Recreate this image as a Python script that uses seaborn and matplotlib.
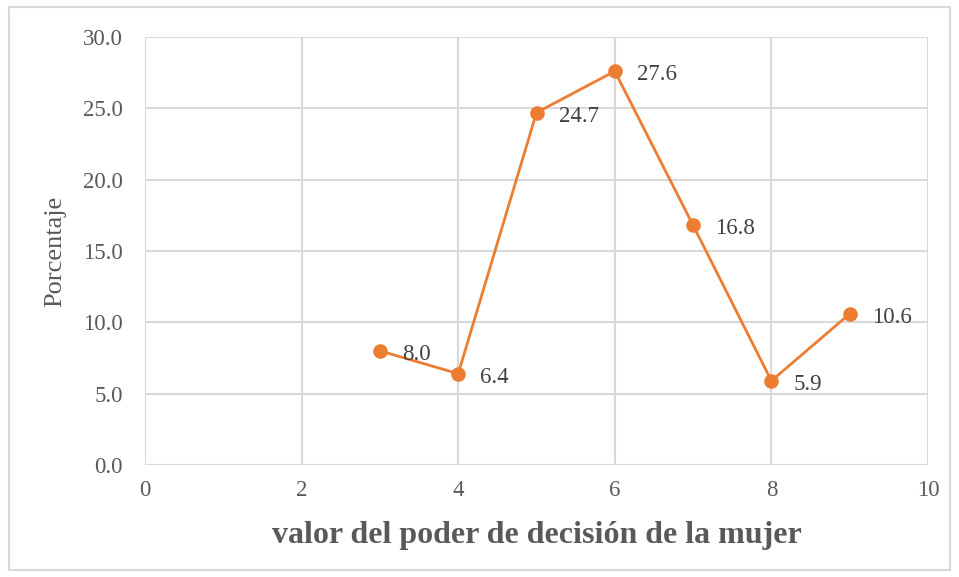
import matplotlib
matplotlib.use("Agg")
import matplotlib.pyplot as plt
import seaborn as sns
import pandas as pd
from matplotlib.patches import Rectangle

x_values = [3, 4, 5, 6, 7, 8, 9]
percentages = [8.0, 6.4, 24.7, 27.6, 16.8, 5.9, 10.6]
x_ticks = [0, 2, 4, 6, 8, 10]
y_ticks = [0, 5, 10, 15, 20, 25, 30]

sns.set_theme(style="white")
plt.rcParams['font.family'] = ['Liberation Serif', 'DejaVu Serif']

df = pd.DataFrame({"x": x_values, "y": percentages})

fig = plt.figure(figsize=(9.59, 5.77), dpi=100)
ax = fig.add_axes([145/959, 1-465/577, (928-145)/959, (465-37)/577])

text_color = "#595959"
grid_color = "#d9d9d9"
orange = "#ED7D31"

sns.lineplot(data=df, x="x", y="y", ax=ax, color=orange, linewidth=2.0,
             marker="o", markersize=10.5, markeredgewidth=0, zorder=3, clip_on=False)

ax.set_xlim(0, 10)
ax.set_ylim(0, 30)
ax.set_xticks(x_ticks)
ax.set_yticks(y_ticks)
ax.set_xticklabels([str(t) for t in x_ticks])
ax.set_yticklabels([f"{t:.1f}" for t in y_ticks])
ax.grid(True, color=grid_color, linewidth=1.5)
ax.set_axisbelow(True)
for s in ax.spines.values():
    s.set_visible(False)
ax.tick_params(axis="both", length=0, labelsize=16.5, labelcolor=text_color)
ax.tick_params(axis="x", pad=11)
ax.tick_params(axis="y", pad=16)

for xv, yv in zip(x_values, percentages):
    ax.annotate(f"{yv:.1f}", (xv, yv), xytext=(16, -2.5), textcoords="offset points",
                ha="left", va="center", fontsize=16.5, color="#404040")

ax.set_xlabel("valor del poder de decisión de la mujer", fontsize=23, fontweight="bold",
              color=text_color, labelpad=14)
ax.set_ylabel("Porcentaje", fontsize=19, color=text_color, labelpad=12)

fig.patches.append(Rectangle((9/959, 1-570/577), (950-9)/959, (570-7)/577,
                             transform=fig.transFigure, fill=False,
                             edgecolor="#d9d9d9", linewidth=1.5))

fig.savefig("out.png", dpi=100)
